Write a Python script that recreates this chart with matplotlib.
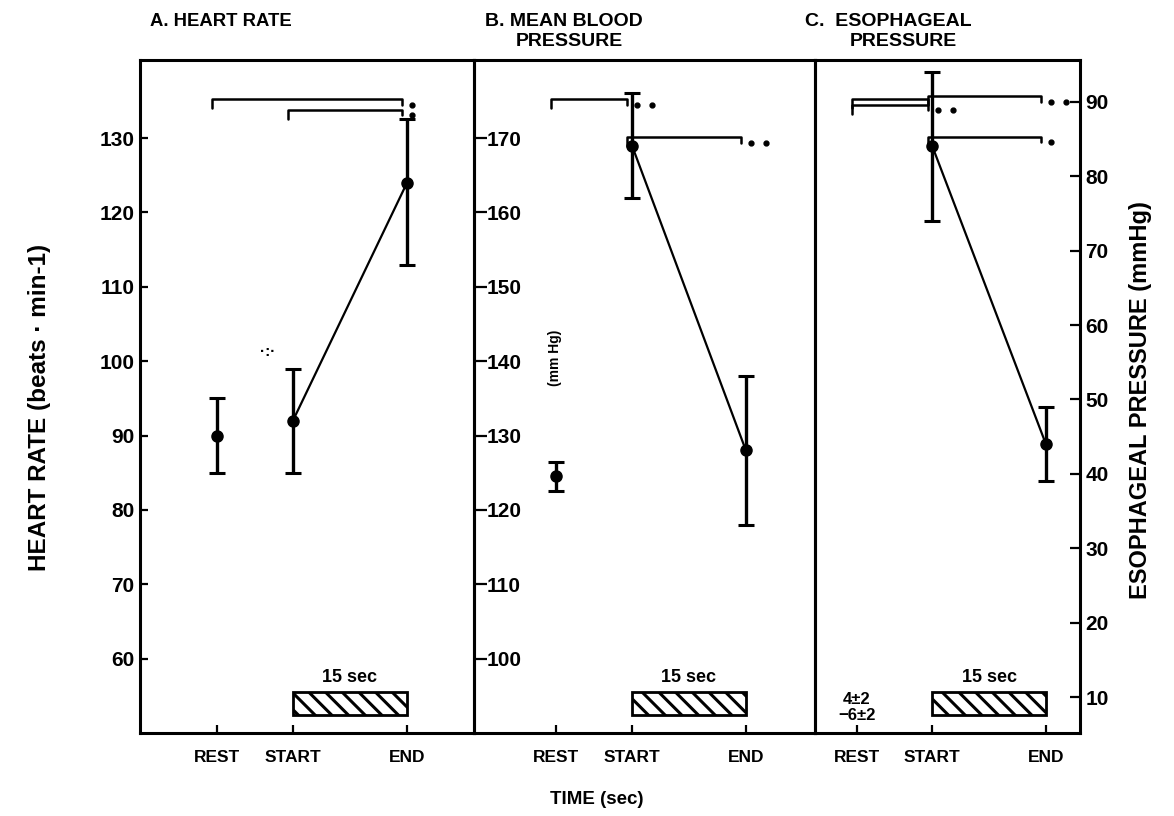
import numpy as np
import matplotlib
matplotlib.use('Agg')
import matplotlib.pyplot as plt
import matplotlib.transforms as mtransforms
from matplotlib.patches import Rectangle

plt.rcParams['font.family'] = ['Liberation Sans', 'DejaVu Sans']
plt.rcParams['font.weight'] = 'bold'
plt.rcParams['hatch.linewidth'] = 2.2

# time points (sec): rest, start of manoeuvre, end (15 s later)
phases = ['REST', 'START', 'END']
t_phase = [-10, 0, 15]

hr_mean = [90, 92, 124]
hr_lo = [5, 7, 11]
hr_hi = [5, 7, 8.5]

bp_mean = [124.5, 169, 128]
bp_sem = [2, 7, 10]

eso_mean = [84, 44]      # start, end
eso_sem = [10, 5]
eso_rest_text = '4\u00b12\n\u22126\u00b12'

# significance brackets: (from phase, to phase, level, n of stars)
hr_sig = [(0, 2, 135.2, 1), (1, 2, 133.8, 1)]
bp_sig = [(0, 1, 175.2, 2), (1, 2, 170.1, 2)]
eso_sig = [(0, 1, 90.4, 0), (0, 1, 89.6, 2), (1, 2, 90.7, 2), (1, 2, 85.3, 1)]

W, H = 1174, 816
fig = plt.figure(figsize=(W / 100, H / 100), dpi=100)

top, bottom = 60, 733
def axes_at(x0, x1):
    return fig.add_axes([x0 / W, (H - bottom) / H, (x1 - x0) / W, (bottom - top) / H])

axA = axes_at(140, 474)
axB = axes_at(474, 815)
axC = axes_at(815, 1080)

lw_frame = 2.2
tick_font = 15

for ax in (axA, axB, axC):
    for s in ax.spines.values():
        s.set_linewidth(lw_frame)
    ax.set_xticks(t_phase)
    ax.set_xticklabels(phases, fontsize=12.5, fontweight='bold')
    ax.tick_params(axis='x', direction='in', length=6, width=1.6, pad=12)
    ax.patch.set_alpha(0)

axA.set_xlim(-20.1, 23.8)
axB.set_xlim(-20.8, 24.1)
axC.set_xlim(-15.5, 19.5)

axA.set_ylim(50, 140.5)
axB.set_ylim(90, 180.5)
axC.set_ylim(5.2, 95.6)

# panel A: ticks inside, labels outside on the left
axA.set_yticks(range(60, 140, 10))
axA.tick_params(axis='y', direction='in', length=6, width=1.6, labelsize=tick_font, pad=4)

# panel B: ticks and labels inside the panel
axB.set_yticks(range(100, 180, 10))
axB.tick_params(axis='y', direction='in', length=9, width=1.6, labelsize=tick_font, pad=-9)
axB.set_yticklabels(['%d' % v for v in range(100, 180, 10)], ha='left')

# panel C: no left ticks, right-hand scale
axC.yaxis.tick_right()
axC.set_yticks(range(10, 100, 10))
axC.tick_params(axis='y', direction='in', length=7, width=1.6, labelsize=tick_font, pad=4)


def draw_points(ax, x, mean, err, connect_from):
    ax.errorbar(x, mean, yerr=err, fmt='o', color='black', ms=8, elinewidth=2.4,
                capsize=6, capthick=2.2, zorder=3)
    ax.plot(x[connect_from:], mean[connect_from:], color='black', lw=1.6, zorder=2)


def draw_brackets(ax, sig, hook):
    for i0, i1, lev, nstar in sig:
        x0, x1 = t_phase[i0] - 0.6, t_phase[i1] - 0.6
        ax.plot([x0, x0, x1, x1], [lev - hook, lev, lev, lev - hook * 0.6],
                color='black', lw=1.8, solid_capstyle='round')
        for k in range(nstar):
            ax.plot(x1 + 1.3 + 2.0 * k, lev - hook * 0.6, 'o', color='black', ms=3.5)


def draw_bar(ax):
    trans = mtransforms.blended_transform_factory(ax.transData, ax.transAxes)
    ax.add_patch(Rectangle((t_phase[1], 0.027), t_phase[2] - t_phase[1], 0.034,
                           transform=trans, facecolor='white', edgecolor='black',
                           lw=2.0, hatch='\\\\'))
    ax.text((t_phase[1] + t_phase[2]) / 2, 0.083, '15 sec', transform=trans,
            ha='center', va='center', fontsize=13, fontweight='bold')


draw_points(axA, t_phase, hr_mean, [hr_lo, hr_hi], 1)
draw_brackets(axA, hr_sig, 1.2)
draw_bar(axA)
axA.text(-3.3, 101.2, '\u00b7:\u00b7', ha='center', va='center', fontsize=11)

draw_points(axB, t_phase, bp_mean, bp_sem, 1)
draw_brackets(axB, bp_sig, 1.2)
draw_bar(axB)
axB.text(-10.1, 140.5, '(mm Hg)', rotation=90, ha='center', va='center', fontsize=10)

draw_points(axC, t_phase[1:], eso_mean, eso_sem, 0)
draw_brackets(axC, eso_sig, 1.2)
draw_bar(axC)
axC.text(t_phase[0], 8.6, eso_rest_text, ha='center', va='center', fontsize=12,
         fontweight='bold', linespacing=1.1)

# panel titles
title_kw = dict(fontsize=14, fontweight='bold', va='center')
fig.text(150 / W, 1 - 22 / H, 'A. HEART RATE', fontsize=13.3, fontweight='bold', va='center')
fig.text(485 / W, 1 - 22 / H, 'B. MEAN BLOOD', **title_kw)
fig.text(516 / W, 1 - 42 / H, 'PRESSURE', **title_kw)
fig.text(805 / W, 1 - 22 / H, 'C.  ESOPHAGEAL', **title_kw)
fig.text(850 / W, 1 - 42 / H, 'PRESSURE', **title_kw)

fig.text(40 / W, 1 - 407 / H, 'HEART RATE (beats \u00b7 min-1)', rotation=90,
         ha='center', va='center', fontsize=17.5, fontweight='bold')
fig.text(1140 / W, 1 - 400 / H, 'ESOPHAGEAL PRESSURE (mmHg)', rotation=90,
         ha='center', va='center', fontsize=17, fontweight='bold')
fig.text(597 / W, 1 - 800 / H, 'TIME (sec)', ha='center', va='center', fontsize=13.5,
         fontweight='bold')

fig.savefig('out.png', dpi=100)
